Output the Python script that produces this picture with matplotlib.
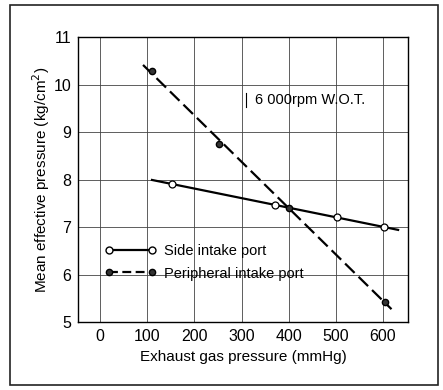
import numpy as np
import matplotlib.pyplot as plt
from matplotlib.patches import Rectangle

side_x = [152, 371, 502, 602]
side_y = [7.91, 7.46, 7.21, 7.00]
side_range = [110, 632]

peri_x = [111, 252, 401, 604]
peri_y = [10.28, 8.75, 7.40, 5.43]
peri_range = [91, 618]

xticks = [0, 100, 200, 300, 400, 500, 600]
yticks = [5, 6, 7, 8, 9, 10, 11]

plt.rcParams["font.family"] = ["Liberation Sans", "DejaVu Sans"]

fig = plt.figure(figsize=(4.43, 3.9), dpi=100)
fig.patches.append(Rectangle((0.0226, 0.0128), 0.966, 0.974, transform=fig.transFigure,
                             fill=False, ec="#222", lw=1.2))
ax = fig.add_axes([0.176, 0.174, 0.745, 0.731])

# straight-line fits through the measured points
ps = np.polyfit(side_x, side_y, 1)
pp = np.polyfit(peri_x, peri_y, 1)
xs = np.array(side_range)
xp = np.array(peri_range)
ax.plot(xs, np.polyval(ps, xs), color="black", lw=1.6)
ax.plot(xp, np.polyval(pp, xp), color="black", lw=1.6, ls=(0, (6, 2.5)))
ax.plot(side_x, side_y, "o", mfc="white", mec="black", ms=5, mew=0.9)
ax.plot(peri_x, peri_y, "o", mfc="#333", mec="black", ms=4.5)

# legend drawn as proxy handles
h1, = ax.plot([], [], color="black", lw=1.6, marker="o", mfc="white", mec="black", ms=5)
h2, = ax.plot([], [], color="black", lw=1.6, ls=(0, (4, 2)), marker="o", mfc="#333",
              mec="black", ms=4.5)
ax.legend([h1, h2], ["Side intake port", "Peripheral intake port"], loc="lower left",
          bbox_to_anchor=(0.04, 0.1), frameon=False, numpoints=2, handlelength=3.6,
          fontsize=10.5, handletextpad=0.5, labelspacing=0.55)

ax.text(328, 9.67, "6 000rpm W.O.T.", fontsize=10.5, va="center", ha="left")
ax.plot([309, 309], [9.52, 9.82], color="black", lw=0.8)

ax.set_xlim(-47, 653)
ax.set_ylim(5, 11)
ax.set_xticks(xticks)
ax.set_yticks(yticks)
ax.grid(True, color="#444", lw=0.6)
ax.tick_params(length=0, labelsize=11.5, pad=5)
for s in ax.spines.values():
    s.set_linewidth(1.0)
ax.set_xlabel("Exhaust gas pressure (mmHg)", fontsize=11, labelpad=4)
ax.set_ylabel("Mean effective pressure (kg/cm$^2$)", fontsize=11, labelpad=1)

fig.savefig("out.png", dpi=100)
